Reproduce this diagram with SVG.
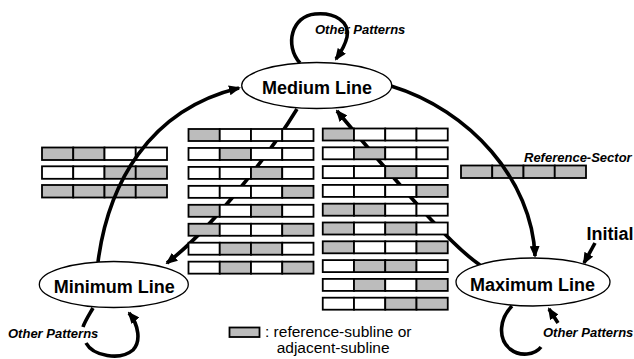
<svg xmlns="http://www.w3.org/2000/svg" width="634" height="359" viewBox="0 0 634 359">
<style>
.s{fill:#bcbcbc;stroke:#000;stroke-width:1.8}
.w{fill:#fff;stroke:#000;stroke-width:1.8}
.c{fill:none;stroke:#000;stroke-width:3.6;stroke-linecap:butt}
.n{fill:#fff;stroke:#000;stroke-width:1.3}
.t{font-family:"Liberation Sans",Arial,sans-serif;font-weight:bold;font-size:18px;text-anchor:middle;fill:#000}
.i{font-family:"Liberation Sans",Arial,sans-serif;font-weight:bold;font-style:italic;font-size:13px;fill:#000}
.r{font-family:"Liberation Sans",Arial,sans-serif;font-size:15.5px;fill:#000}
</style>
<defs>
<marker id="ah" markerUnits="userSpaceOnUse" viewBox="0 0 12 10" markerWidth="12" markerHeight="10" refX="10" refY="5" orient="auto">
<path d="M0,0 L12,5 L0,10 z" fill="#000"/>
</marker>
</defs>
<rect width="634" height="359" fill="#fff"/>

<g id="bars-left">
<rect class="s" x="42" y="147.5" width="31.25" height="12.5"/><rect class="s" x="73.25" y="147.5" width="31.25" height="12.5"/><rect class="w" x="104.5" y="147.5" width="31.25" height="12.5"/><rect class="w" x="135.75" y="147.5" width="31.25" height="12.5"/>
<rect class="w" x="42" y="166.3" width="31.25" height="12.5"/><rect class="w" x="73.25" y="166.3" width="31.25" height="12.5"/><rect class="s" x="104.5" y="166.3" width="31.25" height="12.5"/><rect class="s" x="135.75" y="166.3" width="31.25" height="12.5"/>
<rect class="s" x="42" y="185" width="31.25" height="12.5"/><rect class="s" x="73.25" y="185" width="31.25" height="12.5"/><rect class="s" x="104.5" y="185" width="31.25" height="12.5"/><rect class="s" x="135.75" y="185" width="31.25" height="12.5"/>
</g>

<g id="reference-sector">
<rect class="s" x="461" y="165.5" width="31.25" height="12.5"/><rect class="s" x="492.25" y="165.5" width="31.25" height="12.5"/><rect class="s" x="523.5" y="165.5" width="31.25" height="12.5"/><rect class="s" x="554.75" y="165.5" width="31.25" height="12.5"/>
<text class="i" x="524" y="161.5">Reference-Sector</text>
</g>

<g id="connectors">
<path class="c" d="M98,262 C108,185 148,110 239,88" marker-end="url(#ah)"/>
<path class="c" d="M391,86 C470,110 532,180 535,256" marker-end="url(#ah)"/>
<path class="c" d="M297,109 C272,150 215,226 167,263" marker-end="url(#ah)"/>
<path class="c" d="M480,265 C455,248 420,210 337,111" marker-end="url(#ah)"/>
<path class="c" d="M300,63 C284,45 292,16 315,14 C335,12 350,22 347,37 C345,46 341,52 336,59" marker-end="url(#ah)"/>
<path class="c" d="M93,308 C89,315 85,321 83,327 M86,343 C93,356 120,361 133,350 C141,342 139,325 129,313" marker-end="url(#ah)"/>
<path class="c" d="M512,306 C500,318 497,338 510,349 C520,357 535,355 541,347 M558,323 L549,309" marker-end="url(#ah)"/>
<path class="c" d="M595,243 L584,263" marker-end="url(#ah)"/>
</g>

<g id="bars-middle-left">
<rect class="s" x="188.5" y="129" width="31.25" height="12"/><rect class="w" x="219.75" y="129" width="31.25" height="12"/><rect class="w" x="251" y="129" width="31.25" height="12"/><rect class="w" x="282.25" y="129" width="31.25" height="12"/>
<rect class="w" x="188.5" y="147.95" width="31.25" height="12"/><rect class="s" x="219.75" y="147.95" width="31.25" height="12"/><rect class="w" x="251" y="147.95" width="31.25" height="12"/><rect class="w" x="282.25" y="147.95" width="31.25" height="12"/>
<rect class="w" x="188.5" y="166.9" width="31.25" height="12"/><rect class="w" x="219.75" y="166.9" width="31.25" height="12"/><rect class="s" x="251" y="166.9" width="31.25" height="12"/><rect class="w" x="282.25" y="166.9" width="31.25" height="12"/>
<rect class="w" x="188.5" y="185.85" width="31.25" height="12"/><rect class="w" x="219.75" y="185.85" width="31.25" height="12"/><rect class="w" x="251" y="185.85" width="31.25" height="12"/><rect class="s" x="282.25" y="185.85" width="31.25" height="12"/>
<rect class="s" x="188.5" y="204.8" width="31.25" height="12"/><rect class="w" x="219.75" y="204.8" width="31.25" height="12"/><rect class="s" x="251" y="204.8" width="31.25" height="12"/><rect class="w" x="282.25" y="204.8" width="31.25" height="12"/>
<rect class="s" x="188.5" y="223.75" width="31.25" height="12"/><rect class="w" x="219.75" y="223.75" width="31.25" height="12"/><rect class="w" x="251" y="223.75" width="31.25" height="12"/><rect class="s" x="282.25" y="223.75" width="31.25" height="12"/>
<rect class="w" x="188.5" y="242.7" width="31.25" height="12"/><rect class="s" x="219.75" y="242.7" width="31.25" height="12"/><rect class="s" x="251" y="242.7" width="31.25" height="12"/><rect class="w" x="282.25" y="242.7" width="31.25" height="12"/>
<rect class="w" x="188.5" y="261.65" width="31.25" height="12"/><rect class="s" x="219.75" y="261.65" width="31.25" height="12"/><rect class="w" x="251" y="261.65" width="31.25" height="12"/><rect class="s" x="282.25" y="261.65" width="31.25" height="12"/>
</g>

<g id="bars-middle-right">
<rect class="s" x="322.75" y="128.5" width="31.25" height="12"/><rect class="w" x="354" y="128.5" width="31.25" height="12"/><rect class="w" x="385.25" y="128.5" width="31.25" height="12"/><rect class="w" x="416.5" y="128.5" width="31.25" height="12"/>
<rect class="w" x="322.75" y="147.3" width="31.25" height="12"/><rect class="s" x="354" y="147.3" width="31.25" height="12"/><rect class="w" x="385.25" y="147.3" width="31.25" height="12"/><rect class="w" x="416.5" y="147.3" width="31.25" height="12"/>
<rect class="w" x="322.75" y="166.1" width="31.25" height="12"/><rect class="w" x="354" y="166.1" width="31.25" height="12"/><rect class="s" x="385.25" y="166.1" width="31.25" height="12"/><rect class="w" x="416.5" y="166.1" width="31.25" height="12"/>
<rect class="w" x="322.75" y="184.9" width="31.25" height="12"/><rect class="w" x="354" y="184.9" width="31.25" height="12"/><rect class="w" x="385.25" y="184.9" width="31.25" height="12"/><rect class="s" x="416.5" y="184.9" width="31.25" height="12"/>
<rect class="s" x="322.75" y="203.7" width="31.25" height="12"/><rect class="s" x="354" y="203.7" width="31.25" height="12"/><rect class="w" x="385.25" y="203.7" width="31.25" height="12"/><rect class="w" x="416.5" y="203.7" width="31.25" height="12"/>
<rect class="s" x="322.75" y="222.5" width="31.25" height="12"/><rect class="w" x="354" y="222.5" width="31.25" height="12"/><rect class="s" x="385.25" y="222.5" width="31.25" height="12"/><rect class="w" x="416.5" y="222.5" width="31.25" height="12"/>
<rect class="s" x="322.75" y="241.3" width="31.25" height="12"/><rect class="w" x="354" y="241.3" width="31.25" height="12"/><rect class="w" x="385.25" y="241.3" width="31.25" height="12"/><rect class="s" x="416.5" y="241.3" width="31.25" height="12"/>
<rect class="w" x="322.75" y="260.1" width="31.25" height="12"/><rect class="s" x="354" y="260.1" width="31.25" height="12"/><rect class="s" x="385.25" y="260.1" width="31.25" height="12"/><rect class="w" x="416.5" y="260.1" width="31.25" height="12"/>
<rect class="w" x="322.75" y="278.9" width="31.25" height="12"/><rect class="s" x="354" y="278.9" width="31.25" height="12"/><rect class="w" x="385.25" y="278.9" width="31.25" height="12"/><rect class="s" x="416.5" y="278.9" width="31.25" height="12"/>
<rect class="w" x="322.75" y="297.7" width="31.25" height="12"/><rect class="w" x="354" y="297.7" width="31.25" height="12"/><rect class="s" x="385.25" y="297.7" width="31.25" height="12"/><rect class="s" x="416.5" y="297.7" width="31.25" height="12"/>
</g>

<g id="medium-line">
<ellipse class="n" cx="316.7" cy="85.5" rx="75" ry="23"/>
<text class="t" x="317" y="94">Medium Line</text>
</g>
<g id="minimum-line">
<ellipse class="n" cx="113.8" cy="284.5" rx="74.5" ry="23"/>
<text class="t" x="114.2" y="292.7">Minimum Line</text>
</g>
<g id="maximum-line">
<ellipse class="n" cx="533" cy="282" rx="77" ry="24"/>
<text class="t" x="532.5" y="290.7">Maximum Line</text>
</g>

<g id="labels">
<text class="i" x="315" y="34.3">Other Patterns</text>
<text class="i" x="8" y="338">Other Patterns</text>
<text class="i" x="543" y="336.7">Other Patterns</text>
<text class="t" x="610" y="240">Initial</text>
</g>

<g id="legend">
<rect class="s" x="229.5" y="327.5" width="30" height="9.5"/>
<text class="r" x="265" y="336.7">: reference-subline  or</text>
<text class="r" x="276.7" y="352.7">adjacent-subline</text>
</g>
</svg>
